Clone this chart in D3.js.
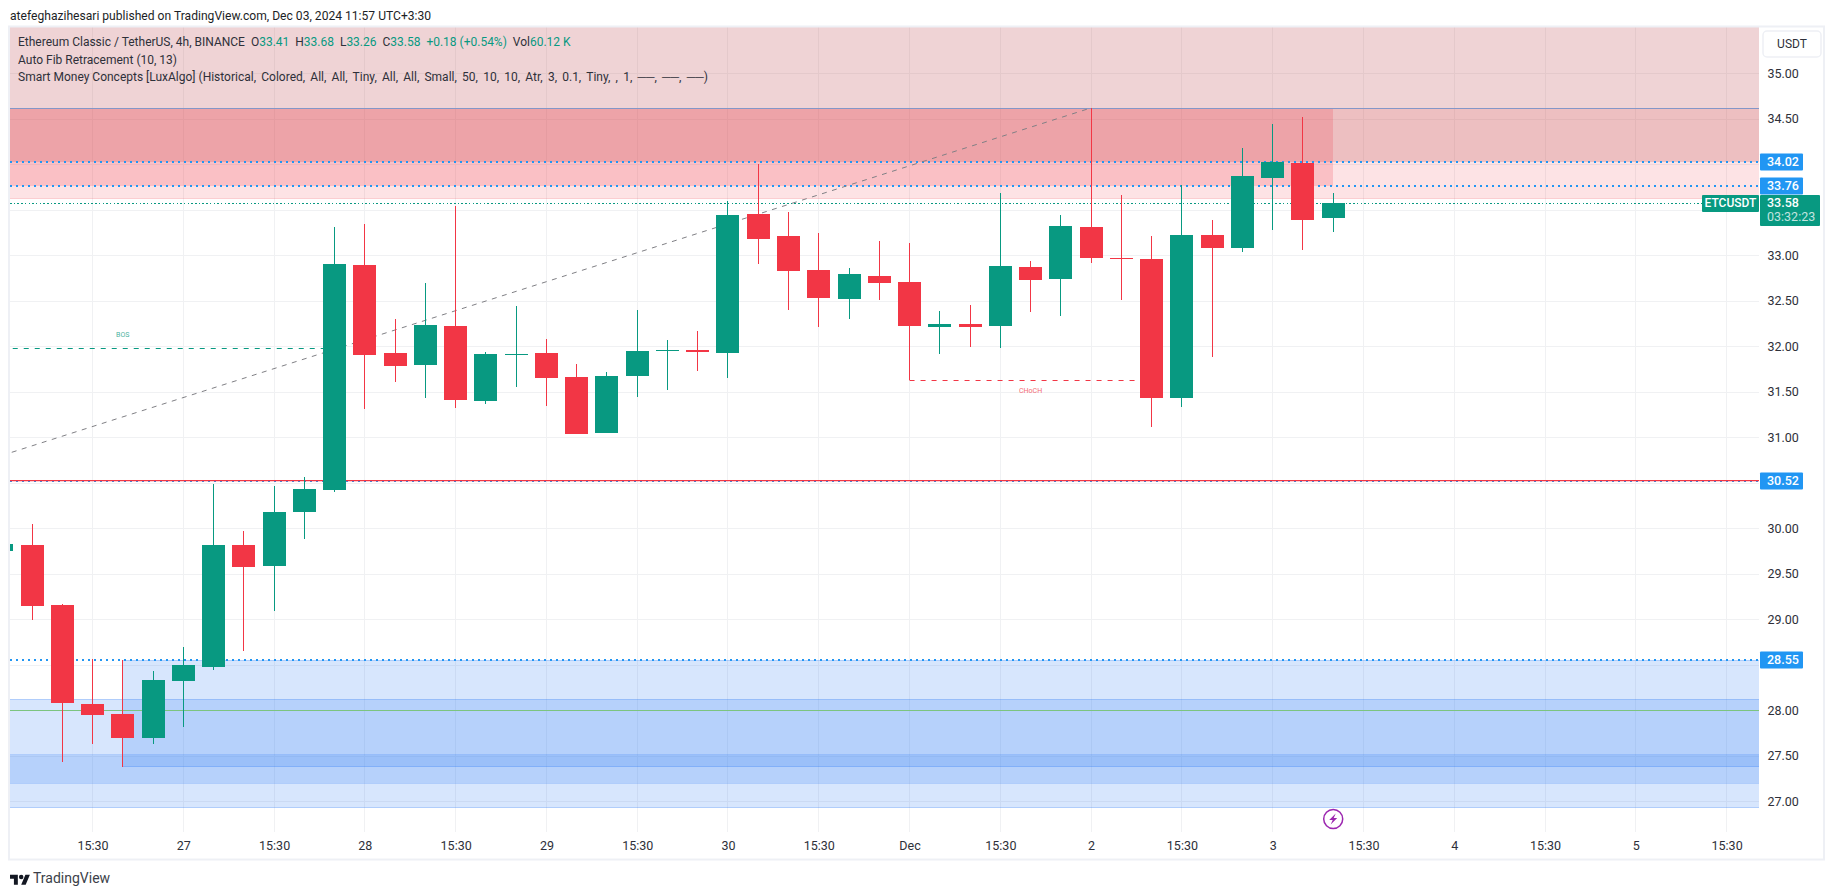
<!DOCTYPE html>
<html>
<head>
<meta charset="utf-8">
<title>ETCUSDT 4h</title>
<script src="https://d3js.org/d3.v7.min.js"></script>
<style>
  html, body { margin: 0; padding: 0; background: #fff; }
  svg { display: block; }
  text { font-family: Roboto, "Open Sans", sans-serif; }
</style>
</head>
<body>
<div id="chart"></div>
<script>
// candles, the first one is the clipped bar at the left edge
var firstIndex = -1;
var opens  = [29.75,29.82,29.16,28.07,27.96,27.70,28.32,28.48,29.82,29.59,30.18,30.42,32.89,31.93,31.79,32.22,31.40,31.91,31.93,31.66,31.05,31.67,31.95,31.96,31.93,33.45,33.21,32.84,32.52,32.77,32.71,32.21,32.24,32.22,32.87,32.74,33.31,32.97,32.96,31.43,33.22,33.08,33.85,34.01,33.41];
var highs  = [29.83,30.05,29.17,28.56,28.55,28.43,28.70,30.49,29.97,30.46,30.56,33.31,33.34,32.30,32.70,33.54,31.94,32.44,32.08,31.81,31.72,32.40,32.07,32.17,33.60,34.00,33.48,33.25,32.86,33.16,33.14,32.39,32.45,33.68,32.94,33.44,34.62,33.66,33.21,33.77,33.39,34.18,34.44,34.52,33.68];
var lows   = [29.75,28.99,27.43,27.63,27.38,27.63,27.82,28.44,28.65,29.09,29.88,30.40,31.31,31.61,31.43,31.32,31.37,31.55,31.34,31.04,31.05,31.44,31.52,31.73,31.65,32.90,32.40,32.21,32.30,32.51,31.63,31.92,31.99,31.98,32.38,32.33,32.92,32.51,31.11,31.33,31.88,33.04,33.28,33.06,33.26];
var closes = [29.83,29.15,28.08,27.95,27.70,28.33,28.50,29.82,29.58,30.18,30.43,32.90,31.90,31.78,32.23,31.41,31.92,31.92,31.65,31.04,31.67,31.95,31.96,31.94,33.44,33.18,32.83,32.53,32.79,32.70,32.22,32.24,32.21,32.88,32.73,33.32,32.97,32.96,31.43,33.22,33.08,33.87,34.03,33.39,33.58];

var gridPrices = [35,34.5,34,33.5,33,32.5,32,31.5,31,30.5,30,29.5,29,28.5,28,27.5,27];
var priceTicks = [35,34.5,33,32.5,32,31.5,31,30,29.5,29,28,27.5,27];
var timeTickIndex = [2,5,8,11,14,17,20,23,26,29,32,35,38,41,44,47,50,53,56];
var timeTickLabels = ["15:30","27","15:30","28","15:30","29","15:30","30","15:30","Dec","15:30","2","15:30","3","15:30","4","15:30","5","15:30"];

// zones: top price, bottom price, first bar, last bar ("end" = right edge)
var pinkZones = [
  { top: 35.6, bottom: 33.62, from: -1, to: "end", fill: "rgba(242,54,69,0.14)", stroke: "rgba(242,54,69,0.12)" },
  { top: 35.6, bottom: 34.02, from: -1, to: "end", fill: "rgba(140,100,100,0.125)", stroke: "none" },
  { top: 34.62, bottom: 34.02, from: -1, to: "end", fill: "rgba(225,70,70,0.14)", stroke: "none" },
  { top: 34.62, bottom: 33.76, from: -1, to: 43, fill: "rgba(242,54,69,0.2)", stroke: "none" }
];
var blueZones = [
  { top: 28.124, bottom: 26.93, from: -1, to: "end" },
  { top: 28.55, bottom: 27.38, from: 3, to: "end" },
  { top: 27.51, bottom: 27.20, from: -1, to: "end" }
];

var fibLine = { startBar: -1, startPrice: 30.80, endBar: 35, endPrice: 34.62 };
var bosLine = { price: 31.98, from: -1, to: 10, labelBar: 3, labelPrice: 32.12 };
var chochLine = { price: 31.63, from: 29, to: 37, labelBar: 33, labelPrice: 31.51 };

var blueLevels = [34.02, 33.76, 30.52, 28.55];
var lastPrice = 33.58;
var redLevel = 30.53;
var greenLevel = 28.0;
var fibTop = 34.62;

var W = 1835, H = 895;
var pane = { left: 10, right: 1759, top: 27, bottom: 832 };
var UP = "#089981", DOWN = "#f23645", BLUE = "#2196f3", TEXT = "#2e3039";

var svg = d3.select("#chart").append("svg").attr("width", W).attr("height", H);

var x = d3.scaleLinear().domain([0, 56]).range([32, 1726.6]);
var y = d3.scaleLinear().domain([27, 35]).range([801.3, 73.3]);

function xEnd(v) { return v === "end" ? pane.right : x(v); }

svg.append("clipPath").attr("id", "paneClip").append("rect")
  .attr("x", pane.left).attr("y", pane.top)
  .attr("width", pane.right - pane.left).attr("height", pane.bottom - pane.top);

var plot = svg.append("g").attr("clip-path", "url(#paneClip)");

// grid
plot.append("g").selectAll("line").data(gridPrices).enter().append("line")
  .attr("x1", pane.left).attr("x2", pane.right)
  .attr("y1", function (d) { return Math.round(y(d)) + 0.5; })
  .attr("y2", function (d) { return Math.round(y(d)) + 0.5; })
  .attr("stroke", "#f0f1f3");
plot.append("g").selectAll("line").data(timeTickIndex).enter().append("line")
  .attr("x1", function (d) { return Math.floor(x(d)) + 0.5; })
  .attr("x2", function (d) { return Math.floor(x(d)) + 0.5; })
  .attr("y1", pane.top).attr("y2", pane.bottom)
  .attr("stroke", "#f0f1f3");

// zones
function drawZones(data, fill, stroke) {
  plot.append("g").selectAll("rect").data(data).enter().append("rect")
    .attr("x", function (d) { return Math.max(x(d.from), pane.left - 5); })
    .attr("width", function (d) { return xEnd(d.to) - Math.max(x(d.from), pane.left - 5); })
    .attr("y", function (d) { return y(d.top); })
    .attr("height", function (d) { return y(d.bottom) - y(d.top); })
    .attr("fill", fill)
    .attr("stroke", stroke)
    .attr("shape-rendering", "crispEdges");
}
drawZones(pinkZones, function (d) { return d.fill; }, function (d) { return d.stroke; });
drawZones(blueZones, "rgba(41,120,245,0.19)", "rgba(41,120,245,0.22)");

// horizontal levels, all under the candles
function hLine(price, color, width, dash) {
  var py = Math.round(y(price)) + (width % 2 ? 0.5 : 0);
  plot.append("line")
    .attr("x1", pane.left).attr("x2", pane.right)
    .attr("y1", py).attr("y2", py)
    .attr("stroke", color).attr("stroke-width", width)
    .attr("stroke-dasharray", dash)
    .attr("shape-rendering", "crispEdges");
}
hLine(fibTop, "#8496c8", 1, null);
hLine(greenLevel, "#7cc47f", 1, null);
blueLevels.forEach(function (p) { hLine(p, BLUE, 2, "2 4"); });
hLine(lastPrice, UP, 1, "1.5 2.2");
// red level is a bit thicker than a pixel and sits over the blue dots
plot.append("line")
  .attr("x1", pane.left).attr("x2", pane.right)
  .attr("y1", y(redLevel) + 0.6).attr("y2", y(redLevel) + 0.6)
  .attr("stroke", DOWN).attr("stroke-width", 1.4);

// auto fib trend line
plot.append("line")
  .attr("x1", x(fibLine.startBar)).attr("y1", y(fibLine.startPrice))
  .attr("x2", x(fibLine.endBar)).attr("y2", y(fibLine.endPrice))
  .attr("stroke", "#808085").attr("stroke-dasharray", "5 5.5");

// BOS and CHoCH
plot.append("line")
  .attr("x1", x(bosLine.from)).attr("x2", x(bosLine.to))
  .attr("y1", Math.round(y(bosLine.price)) + 0.5).attr("y2", Math.round(y(bosLine.price)) + 0.5)
  .attr("stroke", UP).attr("stroke-dasharray", "5 6");
plot.append("line")
  .attr("x1", x(chochLine.from)).attr("x2", x(chochLine.to))
  .attr("y1", Math.round(y(chochLine.price)) + 0.5).attr("y2", Math.round(y(chochLine.price)) + 0.5)
  .attr("stroke", DOWN).attr("stroke-dasharray", "5 6");
plot.append("text").text("BOS")
  .attr("x", x(bosLine.labelBar)).attr("y", y(bosLine.labelPrice))
  .attr("text-anchor", "middle").attr("dominant-baseline", "middle")
  .attr("font-size", 7).attr("fill", UP).attr("opacity", 0.75);
plot.append("text").text("CHoCH")
  .attr("x", x(chochLine.labelBar)).attr("y", y(chochLine.labelPrice))
  .attr("text-anchor", "middle").attr("dominant-baseline", "middle")
  .attr("font-size", 7).attr("fill", DOWN).attr("opacity", 0.75);

// candles
var candles = opens.map(function (o, i) {
  return { bar: firstIndex + i, o: o, h: highs[i], l: lows[i], c: closes[i] };
});
var candle = plot.append("g").attr("shape-rendering", "crispEdges")
  .selectAll("g").data(candles).enter().append("g");
candle.append("rect")
  .attr("x", function (d) { return Math.floor(x(d.bar)); })
  .attr("width", 1)
  .attr("y", function (d) { return y(d.h); })
  .attr("height", function (d) { return y(d.l) - y(d.h); })
  .attr("fill", function (d) { return d.c >= d.o ? UP : DOWN; });
candle.append("rect")
  .attr("x", function (d) { return Math.floor(x(d.bar)) - 11; })
  .attr("width", 23)
  .attr("y", function (d) { return y(Math.max(d.o, d.c)); })
  .attr("height", function (d) { return Math.max(1, Math.abs(y(d.o) - y(d.c))); })
  .attr("fill", function (d) { return d.c >= d.o ? UP : DOWN; });

// frame around pane and axes
var frame = svg.append("g").attr("fill", "none").attr("stroke", "#eef0f5").attr("stroke-width", 2);
frame.append("rect").attr("x", 9).attr("y", 26.5).attr("width", 1815).attr("height", 833);

// axes
var priceAxis = d3.axisRight(y).tickValues(priceTicks).tickSize(0).tickPadding(8.5)
  .tickFormat(d3.format(".2f"));
svg.append("g").attr("class", "axis").attr("transform", "translate(" + pane.right + ",0)").call(priceAxis);

var timeAxis = d3.axisBottom(x).tickValues(timeTickIndex).tickSize(0).tickPadding(9)
  .tickFormat(function (d) { return timeTickLabels[timeTickIndex.indexOf(d)]; });
svg.append("g").attr("class", "axis").attr("transform", "translate(0," + pane.bottom + ")").call(timeAxis);

svg.selectAll(".axis .domain").remove();
svg.selectAll(".axis text")
  .attr("font-family", "Roboto, sans-serif").attr("font-size", 12.5).attr("fill", TEXT);

// price tags
function priceTag(price, color) {
  var cy = Math.round(y(price));
  svg.append("rect").attr("x", 1760).attr("y", cy - 8.5).attr("width", 43).attr("height", 17)
    .attr("rx", 1).attr("fill", color);
  svg.append("text").text(d3.format(".2f")(price))
    .attr("x", 1767).attr("y", cy + 0.5).attr("dominant-baseline", "middle")
    .attr("font-size", 12.5).attr("font-weight", 500).attr("fill", "#fff");
}
blueLevels.forEach(function (p) { priceTag(p, BLUE); });

var lastY = Math.round(y(lastPrice));
svg.append("rect").attr("x", 1702).attr("y", lastY - 8).attr("width", 57).attr("height", 17).attr("rx", 1).attr("fill", UP);
svg.append("rect").attr("x", 1760).attr("y", lastY - 8).attr("width", 60).attr("height", 31).attr("rx", 1).attr("fill", UP);
svg.append("text").text("ETCUSDT").attr("x", 1730.5).attr("y", lastY + 1)
  .attr("text-anchor", "middle").attr("dominant-baseline", "middle")
  .attr("font-size", 12).attr("font-weight", 500).attr("fill", "#fff");
svg.append("text").text(d3.format(".2f")(lastPrice)).attr("x", 1767).attr("y", lastY + 0.5)
  .attr("dominant-baseline", "middle").attr("font-size", 12.5).attr("font-weight", 500).attr("fill", "#fff");
svg.append("text").text("03:32:23").attr("x", 1767).attr("y", lastY + 15)
  .attr("dominant-baseline", "middle").attr("font-size", 12.5).attr("fill", "rgba(255,255,255,0.75)");

// currency button
svg.append("rect").attr("x", 1763).attr("y", 31).attr("width", 58).attr("height", 26).attr("rx", 4)
  .attr("fill", "#fff").attr("stroke", "#eef0f5").attr("stroke-width", 1.5);
svg.append("text").text("USDT").attr("x", 1792).attr("y", 44.5)
  .attr("text-anchor", "middle").attr("dominant-baseline", "middle")
  .attr("font-size", 12).attr("fill", TEXT);

// header
svg.append("text").text("atefeghazihesari published on TradingView.com, Dec 03, 2024 11:57 UTC+3:30")
  .attr("x", 10).attr("y", 20).attr("font-size", 12.1).attr("fill", "#1c1e26");

var legend = svg.append("g").attr("font-size", 12).attr("fill", TEXT);
var row1 = legend.append("text").attr("x", 18).attr("y", 46);
[["Ethereum Classic / TetherUS, 4h, BINANCE  O", TEXT], ["33.41", UP], ["  H", TEXT], ["33.68", UP], ["  L", TEXT], ["33.26", UP],
 ["  C", TEXT], ["33.58", UP], ["  +0.18 (+0.54%)", UP], ["  Vol", TEXT], ["60.12 K", UP]].forEach(function (s) {
  row1.append("tspan").attr("xml:space", "preserve").style("white-space", "pre").attr("fill", s[1]).text(s[0]);
});
legend.append("text").attr("x", 18).attr("y", 64).text("Auto Fib Retracement (10, 13)");
var row3 = legend.append("text").attr("x", 18).attr("y", 81);
row3.append("tspan").text("Smart Money Concepts [LuxAlgo] ");
row3.append("tspan").attr("word-spacing", 2.25)
  .text("(Historical, Colored, All, All, Tiny, All, All, Small, 50, 10, 10, Atr, 3, 0.1, Tiny, , 1, ──, ──, ──)");

// lightning marker under the last candle
var mark = svg.append("g").attr("transform", "translate(" + x(43) + ",819)");
mark.append("circle").attr("r", 9.5).attr("fill", "#fff").attr("stroke", "#9c27b0").attr("stroke-width", 1.5);
mark.append("path").attr("d", "M2.5 -5.5 L-4 1 L-0.5 1 L-2.5 5.5 L4 -1 L0.5 -1 Z").attr("fill", "#9c27b0");

// logo
var logo = svg.append("g").attr("transform", "translate(10,872.5) scale(0.56)").attr("fill", "#131722");
logo.append("path").attr("d", "M14 22H7V11H0V4h14v18zM28 22h-8l7.5-18h8L28 22z");
logo.append("circle").attr("cx", 20).attr("cy", 8).attr("r", 4);
svg.append("text").text("TradingView").attr("x", 33).attr("y", 883)
  .attr("font-size", 14).attr("fill", "#3c3f49");
</script>
</body>
</html>
